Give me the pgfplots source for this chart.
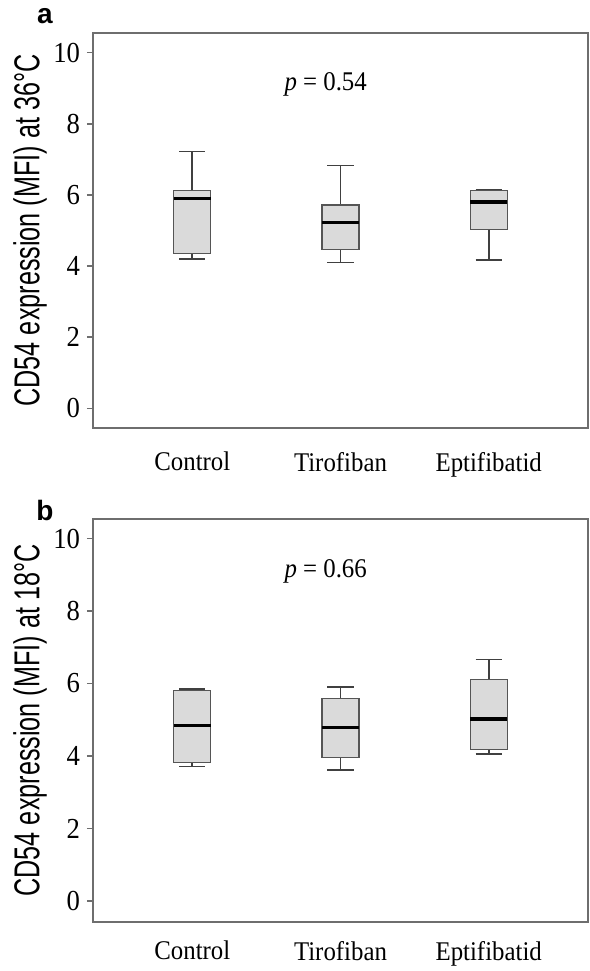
\documentclass[border=0pt]{standalone}
\usepackage{fontspec}
\setmainfont{Liberation Serif}[FakeStretch=0.92]
\newfontfamily\ylabfont{Liberation Sans}[FakeStretch=0.70]
\newfontfamily\panelfont{Liberation Sans}
\usepackage{pgfplots}
\pgfplotsset{compat=1.18}
\usepgfplotslibrary{statistics}

\definecolor{boxfill}{RGB}{218,218,218}
\definecolor{boxline}{RGB}{85,85,85}
\definecolor{framec}{RGB}{110,110,110}

\tikzset{
  plabel/.style={font=\panelfont\bfseries\fontsize{14}{16}\selectfont},
  pval/.style={font=\fontsize{13.5}{16}\selectfont},
}

\pgfplotsset{
  cdbox/.style={
    width=247.5pt, scale only axis, clip=false,
    xmin=0.33, xmax=3.67,
    xtick={1,2,3}, xticklabels={Control,Tirofiban,Eptifibatid},
    ytick={0,2,...,10}, ytick pos=left,
    axis line style={framec, line width=0.6pt},
    major x tick style={draw=none},
    major y tick style={framec, line width=0.6pt},
    tick align=outside, major tick length=3pt,
    xticklabel style={font=\fontsize{13.5}{16}\selectfont, yshift=-5.5pt},
    yticklabel style={font=\fontsize{14.5}{16}\selectfont},
    /pgf/number format/assume math mode=true,
    every axis y label/.style={at={(axis description cs:-0.127,0.5)}, rotate=90,
      anchor=center, font=\ylabfont\fontsize{18}{20}\selectfont},
    boxplot/draw direction=y,
    boxplot/box extend=0.25,
    boxplot/whisker extend=0.177,
    boxplot/every box/.style={draw=boxline, fill=boxfill, line width=0.65pt},
    boxplot/every whisker/.style={draw=black!75, line width=0.85pt},
    boxplot/every median/.style={draw=black, line width=1.6pt},
  },
}

\begin{document}
\begin{tikzpicture}
\useasboundingbox (-46.5pt,-271.5pt) rectangle (248.5pt,214pt);

% panel a, 36 C
\begin{axis}[cdbox, at={(0,0)}, height=197.5pt, ymin=-0.56, ymax=10.56,
  ylabel={CD54 expression (MFI) at 36°C}]
\addplot[boxplot prepared={draw position=1, lower whisker=4.19, lower quartile=4.35,
  median=5.90, upper quartile=6.13, upper whisker=7.22}] coordinates {};
\addplot[boxplot prepared={draw position=2, lower whisker=4.10, lower quartile=4.46,
  median=5.23, upper quartile=5.72, upper whisker=6.83}] coordinates {};
\addplot[boxplot prepared={draw position=3, lower whisker=4.17, lower quartile=5.02,
  median=5.80, upper quartile=6.13, upper whisker=6.15}] coordinates {};
\node[pval] at (axis cs:1.9,9.1) {{\itshape p} = 0.54};
\node[plabel] at (axis description cs:-0.097,1.043) {a};
\end{axis}

% panel b, 18 C
\begin{axis}[cdbox, at={(0,-247pt)}, height=201.5pt, ymin=-0.58, ymax=10.54,
  xticklabel style={yshift=2.5pt},
  ylabel={CD54 expression (MFI) at 18°C}]
\addplot[boxplot prepared={draw position=1, lower whisker=3.71, lower quartile=3.82,
  median=4.85, upper quartile=5.81, upper whisker=5.84}] coordinates {};
\addplot[boxplot prepared={draw position=2, lower whisker=3.61, lower quartile=3.96,
  median=4.79, upper quartile=5.59, upper whisker=5.91}] coordinates {};
\addplot[boxplot prepared={draw position=3, lower whisker=4.06, lower quartile=4.18,
  median=5.02, upper quartile=6.12, upper whisker=6.66}] coordinates {};
\node[pval] at (axis cs:1.9,9.1) {{\itshape p} = 0.66};
\node[plabel] at (axis description cs:-0.097,1.02) {b};
\end{axis}
\end{tikzpicture}
\end{document}
